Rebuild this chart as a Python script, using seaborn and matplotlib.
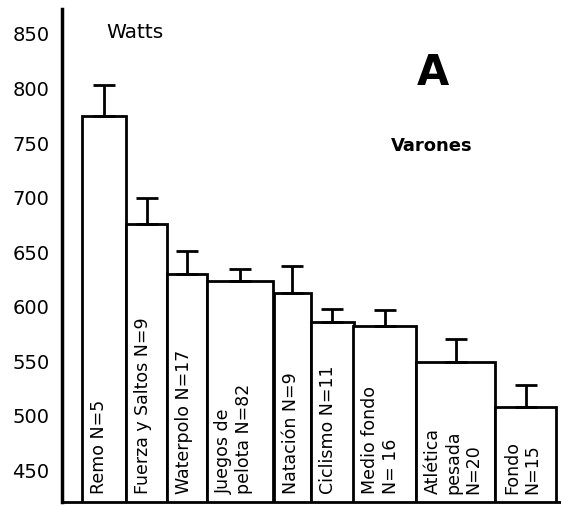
import matplotlib
matplotlib.use("Agg")
import matplotlib.pyplot as plt
import seaborn as sns
import numpy as np

# Potencia (W) por deporte, varones
deportes = ["Remo N=5", "Fuerza y Saltos N=9", "Waterpolo N=17",
            "Juegos de\npelota N=82", "Natación N=9", "Ciclismo N=11",
            "Medio fondo\nN= 16", "Atlética\npesada\nN=20", "Fondo\nN=15"]
watts = [774, 675, 629, 623, 612, 585, 581, 548, 507]
error = [28, 24, 21, 11, 24, 12, 15, 21, 20]
yticks = [450, 500, 550, 600, 650, 700, 750, 800, 850]

# bar widths (x axis in screen-like units)
anchos = [44, 41, 40, 66.5, 37.5, 42.5, 62.7, 79, 61]
inicio = 20

sns.set_style("white")
plt.rcParams["font.family"] = ["DejaVu Sans"]
plt.rcParams["text.color"] = "black"
plt.rcParams["ytick.color"] = "black"

fig = plt.figure(figsize=(5.61, 5.06), dpi=100)
ax = fig.add_axes([62 / 561, 3 / 506, 499 / 561, 493 / 506])

sns.barplot(x=list(range(len(watts))), y=watts, ax=ax, color="white",
            edgecolor="black", linewidth=2, errorbar=None, saturation=1)

izq = inicio + np.concatenate([[0], np.cumsum(anchos)[:-1]])
centros = izq + np.array(anchos) / 2
for p, x0, w in zip(ax.patches, izq, anchos):
    p.set_x(x0)
    p.set_width(w)

ax.errorbar(centros, watts, yerr=[np.zeros(len(error)), error], fmt="none",
            ecolor="black", elinewidth=2, capsize=8, capthick=2)

for x0, lab in zip(izq, deportes):
    ax.text(x0 + 8, 428, lab, rotation=90, ha="left", va="bottom",
            fontsize=12.5, multialignment="left", linespacing=1.15,
            color="black")

ax.set_xlim(0, 499)
ax.set_ylim(420, 872)
ax.set_yticks(yticks)
ax.set_yticklabels([str(v) for v in yticks], fontsize=14, color="black")
ax.set_xticks([])
ax.tick_params(axis="y", length=0, pad=9)
ax.set_xlabel("")
ax.set_ylabel("")

for s in ["top", "right"]:
    ax.spines[s].set_visible(False)
ax.spines["left"].set_linewidth(2.5)
ax.spines["bottom"].set_linewidth(2)
ax.spines["left"].set_color("black")
ax.spines["bottom"].set_color("black")

ax.text(44, 851, "Watts", fontsize=14.5, ha="left", va="center", color="black")
ax.text(371, 814, "A", fontsize=30, fontweight="bold", ha="center",
        va="center", color="black")
ax.text(370, 747, "Varones", fontsize=13, fontweight="bold", ha="center",
        va="center", color="black")

fig.savefig("out.png", dpi=100)
